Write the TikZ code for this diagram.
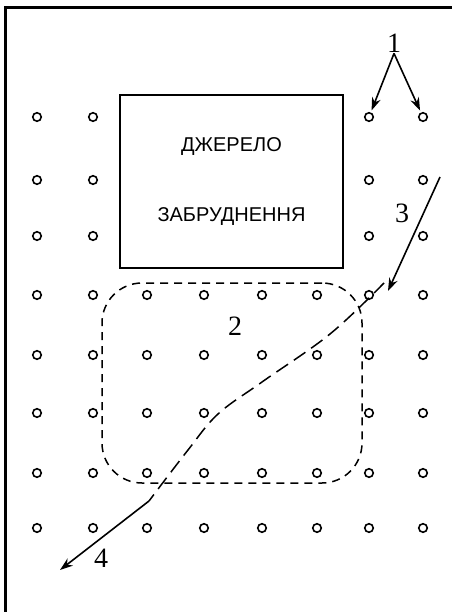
\documentclass[tikz,border=0pt]{standalone}
\usepackage{fontspec}
\setmainfont{Liberation Serif}
\newfontfamily\cyrsans{Liberation Sans}
\usetikzlibrary{arrows.meta,positioning}
\tikzset{>={Stealth[length=13pt,width=9pt]},line width=1pt,
  well/.style={circle,draw,line width=1.6pt,inner sep=0pt,minimum size=8.5pt},
  pointer/.style={->,line width=1.6pt},
  numlabel/.style={font=\fontsize{28}{30}\selectfont,inner sep=1pt},
  boundary/.style={draw,dash pattern=on 8pt off 6pt,line width=1.5pt},
  seep/.style={draw,dash pattern=on 14pt off 7pt,line width=1.5pt}}
\begin{document}
\begin{tikzpicture}[x=1pt,y=-1pt,
  source/.style={draw,line width=1.7pt,minimum width=223pt,minimum height=173pt,align=center,
    font=\cyrsans\fontsize{20}{70}\selectfont}]
\useasboundingbox (0,0) rectangle (452,612);
\draw[line width=2.5pt] (5.5,612) |- (452,7.5);
% observation wells: the source box hides the middle of the first three rows
\foreach \r/\y in {1/117,2/180,3/236}{
 \foreach \c/\x in {1/37,2/93,7/369,8/423}{\node[well] (c-\r-\c) at (\x,\y) {};}}
\foreach \r/\y in {4/295,5/355,6/413,7/473,8/528}{
 \foreach \c/\x in {1/37,2/93,3/147,4/204,5/262,6/317,7/369,8/423}{\node[well] (c-\r-\c) at (\x,\y) {};}}
\node[source] (src) at (231.5,181.5) {ДЖЕРЕЛО\\ЗАБРУДНЕННЯ};
\node[boundary,rounded corners=40pt,minimum width=260pt,minimum height=200pt] (zone) at (232,383) {};
\node[numlabel] (one) at (394,43) {1};
\node[numlabel] (two) at (235,326) {2};
\node[numlabel] (three) at (402,213) {3};
\node[numlabel] (four) at (101,558) {4};
\draw[pointer,shorten >=2pt] (one.south) -- (c-1-7);
\draw[pointer,shorten >=2pt] (one.south) -- (c-1-8);
\coordinate (inflow) at (440,177);
\coordinate (leak) at (384,283);
\coordinate (exit) at (149,501);
\coordinate (sink) at (60,570);
\draw[pointer] (inflow) -- ([xshift=4pt,yshift=-8pt]leak);
\draw[seep] plot[smooth,tension=.6] coordinates {(leak) (330,334) (262,382) (218,414) (188,450) (exit)};
\draw[pointer] (exit) -- (sink);
\end{tikzpicture}
\end{document}
